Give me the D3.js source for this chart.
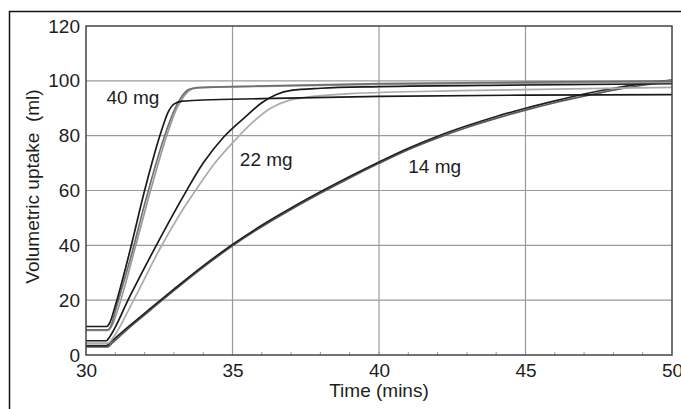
<!DOCTYPE html>
<html>
<head>
<meta charset="utf-8">
<script src="https://cdn.jsdelivr.net/npm/d3@7"></script>
<style>
  body { margin: 0; background: #fff; }
  text { font-family: "Liberation Sans", Arial, sans-serif; fill: #1e1e1e; }
</style>
</head>
<body>
<div id="chart"></div>
<script>
// axis ticks
var xTicks = [30, 35, 40, 45, 50];
var yTicks = [0, 20, 40, 60, 80, 100, 120];

// curves: [time (mins), volumetric uptake (ml)]
var mg40a = [[30,10.4],[30.7,10.4],[30.8,11.5],[31.0,18],[31.5,38],[32.0,60],[32.58,82],[32.8,88.5],[33.0,91.5],[33.3,92.6],[34,93],[36,93.5],[40,94.3],[45,94.8],[50,95]];
var mg40b = [[30,9.2],[30.75,9.2],[30.85,10.5],[31.0,16],[31.6,38.5],[32.0,55],[32.75,82],[33.0,89],[33.25,94],[33.5,96.8],[33.8,97.5],[35,97.9],[40,99],[45,99.5],[50,100]];
var mg40c = [[30,9.0],[30.75,9.0],[30.9,11],[31.1,17],[31.7,40],[32.1,56],[32.85,83],[33.1,90],[33.35,94.5],[33.6,97],[34,97.6],[36,98],[40,98.7],[45,99.1],[50,99.4]];
var mg22a = [[30,5.2],[30.7,5.2],[30.8,6.5],[31.5,21.5],[32.4,40],[33.3,57.5],[34.0,70],[34.7,79.5],[35.4,86.5],[36.0,92],[36.5,95],[37.0,96.5],[38,97.3],[40,97.9],[45,98.5],[50,99]];
var mg22b = [[30,4.3],[30.75,4.3],[30.9,6],[31.6,19.5],[32.5,38.3],[33.3,53],[33.8,61],[34.4,70],[35.1,78.5],[35.7,85],[36.3,90],[36.9,92.8],[37.5,94],[39,95.3],[42.8,96.4],[46,97],[50,97.6]];
var mg14a = [[30,3.4],[30.7,3.4],[30.85,4.8],[31.5,10.8],[32.2,17],[33,24],[34,32.5],[35,40.3],[36,47.3],[37,53.6],[38,59.5],[39,65.1],[40,70.4],[41,75.4],[42,79.8],[43,83.6],[44,87],[45,90],[46,92.7],[47,95.2],[48,97.3],[49,99],[50,100.3]];
var mg14b = [[30,3.0],[30.75,3.0],[30.9,4.4],[31.5,10.2],[32.2,16.4],[33,23.5],[34,32],[35,39.8],[36,46.8],[37,53.1],[38,59],[39,64.6],[40,69.9],[41,74.9],[42,79.2],[43,83],[44,86.3],[45,89.3],[46,92],[47,94.4],[48,96.6],[49,98.4],[50,99.7]];

// dose labels: [time, uptake, text]
var doseLabels = [[30.7, 91.5, "40 mg"], [35.25, 69, "22 mg"], [41.0, 66.5, "14 mg"]];

var W = 681, H = 409;
var margin = {top: 26, right: 9, bottom: 54, left: 86},
    width = W - margin.left - margin.right,
    height = H - margin.top - margin.bottom;

var svg = d3.select("#chart")
  .append("svg")
    .attr("width", W)
    .attr("height", H);

// outer frame
svg.append("rect")
  .attr("x", 9.5).attr("y", 11.5)
  .attr("width", 700).attr("height", 430)
  .attr("fill", "none")
  .attr("stroke", "#111")
  .attr("stroke-width", 1.5);

var g = svg.append("g")
  .attr("transform", "translate(" + margin.left + "," + margin.top + ")");

var x = d3.scaleLinear().domain([30, 50]).range([0, width]);
var y = d3.scaleLinear().domain([0, 120]).range([height, 0]);

// grid
g.append("g").selectAll("line")
  .data(yTicks.slice(1, -1))
  .enter().append("line")
    .attr("x1", 0).attr("x2", width)
    .attr("y1", d => y(d)).attr("y2", d => y(d))
    .attr("stroke", "#9a9a9a").attr("stroke-width", 1.2);
g.append("g").selectAll("line")
  .data(xTicks.slice(1, -1))
  .enter().append("line")
    .attr("x1", d => x(d)).attr("x2", d => x(d))
    .attr("y1", 0).attr("y2", height)
    .attr("stroke", "#9a9a9a").attr("stroke-width", 1.2);

// minor ticks on x axis
g.append("g").selectAll("line")
  .data(d3.range(31, 50))
  .enter().append("line")
    .attr("x1", d => x(d)).attr("x2", d => x(d))
    .attr("y1", height).attr("y2", height - 3)
    .attr("stroke", "#999");

// curves
var line = d3.line()
  .x(d => x(d[0]))
  .y(d => y(d[1]))
  .curve(d3.curveMonotoneX);

var series = [
  {data: mg14b, color: "#5a5a5a"},
  {data: mg14a, color: "#222"},
  {data: mg22b, color: "#ababab"},
  {data: mg22a, color: "#1a1a1a"},
  {data: mg40c, color: "#9a9a9a"},
  {data: mg40b, color: "#707070"},
  {data: mg40a, color: "#1a1a1a"}
];

svg.append("clipPath").attr("id", "clip")
  .append("rect").attr("width", width).attr("height", height);

g.append("g").attr("clip-path", "url(#clip)")
  .selectAll("path")
  .data(series)
  .enter().append("path")
    .attr("d", d => line(d.data))
    .attr("fill", "none")
    .attr("stroke", d => d.color)
    .attr("stroke-width", 1.7);

// plot border
g.append("rect")
  .attr("width", width).attr("height", height)
  .attr("fill", "none")
  .attr("stroke", "#444")
  .attr("stroke-width", 1.5);

// axes
var yAxis = g.append("g").call(d3.axisLeft(y).tickValues(yTicks).tickSize(0).tickPadding(6));
var xAxis = g.append("g").attr("transform", "translate(0," + height + ")")
  .call(d3.axisBottom(x).tickValues(xTicks).tickSize(0).tickPadding(9));
[xAxis, yAxis].forEach(function(a) {
  a.select(".domain").remove();
  a.selectAll("text").style("font-size", "19px").attr("fill", "#1e1e1e")
    .style("font-family", '"Liberation Sans", Arial, sans-serif');
});

// axis labels
g.append("text")
  .attr("x", width / 2)
  .attr("y", height + 42)
  .attr("text-anchor", "middle")
  .style("font-size", "19px")
  .text("Time (mins)");

g.append("text")
  .attr("transform", "rotate(-90)")
  .attr("x", -(height / 2) + 4)
  .attr("y", -margin.left + 32)
  .attr("dy", "0.35em")
  .attr("text-anchor", "middle")
  .style("font-size", "19px")
  .style("white-space", "pre")
  .text("Volumetric uptake  (ml)");

// dose labels
g.append("g").selectAll("text")
  .data(doseLabels)
  .enter().append("text")
    .attr("x", d => x(d[0]))
    .attr("y", d => y(d[1]))
    .style("font-size", "19px")
    .text(d => d[2]);
</script>
</body>
</html>
